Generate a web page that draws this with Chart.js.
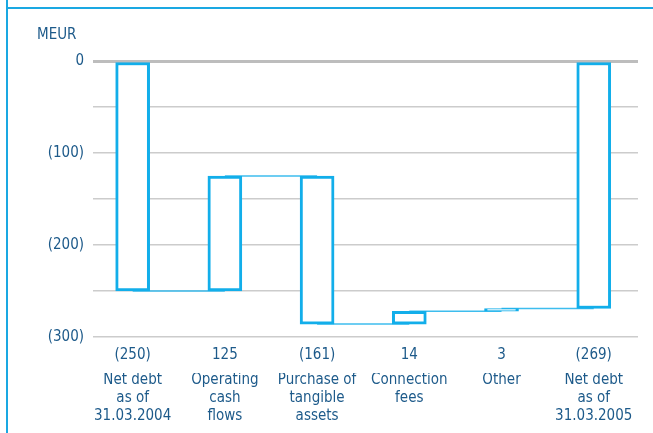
<!DOCTYPE html>
<html>
<head>
<meta charset="utf-8">
<script src="https://cdn.jsdelivr.net/npm/chart.js@4"></script>
<style>
    html, body { margin: 0; padding: 0; background: #fff; }
    #wrap { position: relative; width: 653px; height: 433px; overflow: hidden; }
    #frame-top { position: absolute; left: 6px; top: 7px; width: 647px; height: 2px; background: #1aa8e2; }
    #frame-left { position: absolute; left: 6px; top: 0; width: 2px; height: 433px; background: #1aa8e2; }
    canvas { position: absolute; left: 0; top: 0; }
</style>
</head>
<body>
<div id="wrap">
    <div id="frame-top"></div>
    <div id="frame-left"></div>
    <canvas id="chart" width="653" height="433"></canvas>
</div>
<script>
// waterfall data (MEUR)
var categories = [
    ["Net debt", "as of", "31.03.2004"],
    ["Operating", "cash", "flows"],
    ["Purchase of", "tangible", "assets"],
    ["Connection", "fees"],
    ["Other"],
    ["Net debt", "as of", "31.03.2005"]
];
var valueLabels = ["(250)", "125", "(161)", "14", "3", "(269)"];
var changes = [-250, 125, -161, 14, 3, -269];
var isTotal = [true, false, false, false, false, true];
var yTicks = [0, -100, -200, -300];

var textColor = "#1d5a8a";
var barColor = "#12aeea";
var lineColor = "#3dbdee";
var font = "'DejaVu Sans Condensed', 'DejaVu Sans', sans-serif";

// build floating bars and connector levels
var bars = [];
var levels = [];
var running = 0;
for (var i = 0; i < changes.length; i++) {
    var start, end;
    if (isTotal[i]) {
        start = 0;
        end = changes[i];
    } else {
        start = running;
        end = running + changes[i];
    }
    running = end;
    bars.push({ x: i, y: [start, end] });
    levels.push(end);
}

var datasets = [{
    type: "bar",
    data: bars,
    backgroundColor: "#ffffff",
    borderColor: barColor,
    borderWidth: 3,
    borderSkipped: false,
    barThickness: 34,
    order: 1
}];

for (var j = 0; j < changes.length - 1; j++) {
    datasets.push({
        type: "line",
        data: [{ x: j, y: levels[j] }, { x: j + 1, y: levels[j] }],
        borderColor: lineColor,
        borderWidth: 1.5,
        pointRadius: 0,
        fill: false,
        order: 2
    });
}

function axisLabel(v) {
    if (v === 0) return "0";
    return "(" + Math.abs(v) + ")";
}

var ctx = document.getElementById("chart").getContext("2d");
new Chart(ctx, {
    type: "bar",
    data: { datasets: datasets },
    options: {
        responsive: false,
        animation: false,
        layout: { padding: { left: 37, right: 15, top: 26, bottom: 10 } },
        plugins: {
            legend: { display: false },
            tooltip: { enabled: false },
            title: {
                display: true,
                text: "MEUR",
                align: "start",
                color: textColor,
                font: { family: font, size: 15, weight: "normal" },
                padding: { top: 0, bottom: 17 }
            }
        },
        scales: {
            x: {
                type: "linear",
                position: "bottom",
                offset: false,
                min: -0.43,
                max: 5.48,
                grid: { display: false, drawTicks: false },
                border: { display: false },
                ticks: {
                    stepSize: 1,
                    includeBounds: false,
                    autoSkip: false,
                    maxRotation: 0,
                    color: textColor,
                    font: { family: font, size: 15 },
                    padding: 9,
                    callback: function (v) { return valueLabels[v]; }
                }
            },
            x2: {
                type: "linear",
                position: "bottom",
                offset: false,
                min: -0.43,
                max: 5.48,
                grid: { display: false, drawTicks: false },
                border: { display: false },
                ticks: {
                    stepSize: 1,
                    includeBounds: false,
                    autoSkip: false,
                    maxRotation: 0,
                    color: textColor,
                    font: { family: font, size: 15, lineHeight: 1.2 },
                    padding: -2,
                    callback: function (v) { return categories[v]; }
                }
            },
            y: {
                min: -300,
                max: 0,
                afterFit: function (scale) { scale.width = 56; },
                grid: {
                    drawTicks: false,
                    color: function (c) { return c.tick.value === 0 ? "#bdbdbd" : "#cccccc"; },
                    lineWidth: function (c) { return c.tick.value === 0 ? 3 : 1.5; }
                },
                border: { display: false },
                ticks: {
                    stepSize: 50,
                    color: textColor,
                    padding: 9,
                    font: { family: font, size: 15 },
                    callback: function (v) { return yTicks.indexOf(v) >= 0 ? axisLabel(v) : ""; }
                }
            }
        }
    }
});
</script>
</body>
</html>
